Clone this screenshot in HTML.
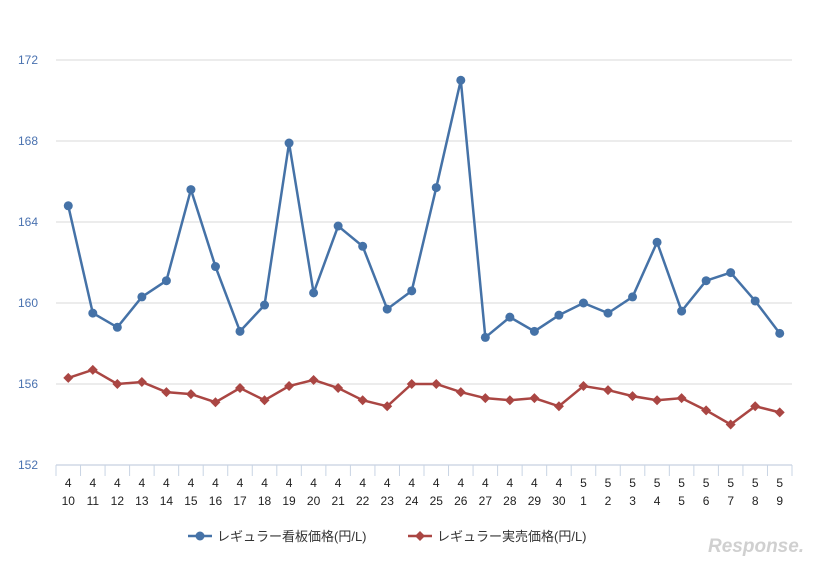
<!DOCTYPE html>
<html><head><meta charset="utf-8">
<style>
body{margin:0;background:#fff;width:832px;height:564px;overflow:hidden;font-family:"Liberation Sans","Noto Sans CJK JP",sans-serif;}
svg text{font-family:"Liberation Sans","Noto Sans CJK JP",sans-serif;}
</style></head><body>
<svg id="chart" width="832" height="564" xmlns="http://www.w3.org/2000/svg"></svg>
<script>
const months=[4,4,4,4,4,4,4,4,4,4,4,4,4,4,4,4,4,4,4,4,4,5,5,5,5,5,5,5,5,5];
const days=[10,11,12,13,14,15,16,17,18,19,20,21,22,23,24,25,26,27,28,29,30,1,2,3,4,5,6,7,8,9];
const signPrice=[164.8,159.5,158.8,160.3,161.1,165.6,161.8,158.6,159.9,167.9,160.5,163.8,162.8,159.7,160.6,165.7,171.0,158.3,159.3,158.6,159.4,160.0,159.5,160.3,163.0,159.6,161.1,161.5,160.1,158.5];
const actualPrice=[156.3,156.7,156.0,156.1,155.6,155.5,155.1,155.8,155.2,155.9,156.2,155.8,155.2,154.9,156.0,156.0,155.6,155.3,155.2,155.3,154.9,155.9,155.7,155.4,155.2,155.3,154.7,154.0,154.9,154.6];
const yTicks=[152,156,160,164,168,172];

const svg=document.getElementById('chart');
const NS='http://www.w3.org/2000/svg';
const L=56,R=792,T=60,B=465,yMin=152,yMax=172;
const n=days.length, step=(R-L)/n;
const xs=i=>L+step*(i+0.5);
const ys=v=>B-(v-yMin)/(yMax-yMin)*(B-T);
function mk(tag,attrs,parent){const e=document.createElementNS(NS,tag);for(const k in attrs)e.setAttribute(k,attrs[k]);(parent||svg).appendChild(e);return e;}

yTicks.forEach(t=>{
  if(t!==yMin){const g=mk('line',{x1:L,x2:R,y1:ys(t),y2:ys(t),stroke:'#d9d9d9','stroke-width':1});
  
  }
  const tx=mk('text',{x:18,y:ys(t)+4,'font-size':12,fill:'#4a72b0'});tx.textContent=t;
  
  
});
const ax=mk('line',{x1:L,x2:R,y1:B,y2:B,stroke:'#b8c6d8','stroke-width':1});


for(let i=0;i<=n;i++){const tk=mk('line',{x1:L+step*i,x2:L+step*i,y1:B,y2:B+11,stroke:'#c8d4e4'});
  
  }
days.forEach((d,i)=>{
  const t1=mk('text',{x:xs(i),y:487,'font-size':12,'text-anchor':'middle',fill:'#222'});t1.textContent=months[i];
  
  
  const t2=mk('text',{x:xs(i),y:505,'font-size':12,'text-anchor':'middle',fill:'#222'});t2.textContent=d;
  
  
});
function series(vals,color,shape,name){
  const p=mk('polyline',{points:vals.map((v,i)=>xs(i)+','+ys(v)).join(' '),fill:'none',stroke:color,'stroke-width':2.5});
  
  
  vals.forEach((v,i)=>{
    let m;
    if(shape==='circle') m=mk('circle',{cx:xs(i),cy:ys(v),r:4.5,fill:color});
    else {const x=xs(i),y=ys(v);m=mk('polygon',{points:`${x},${y-5} ${x+5},${y} ${x},${y+5} ${x-5},${y}`,fill:color});}
    
    
  });
}
series(signPrice,'#4572a7','circle','sign-price');
series(actualPrice,'#aa4643','diamond','actual-price');

const lg=mk('g',{});


const l1=mk('line',{x1:188,x2:212,y1:536,y2:536,stroke:'#4572a7','stroke-width':2.5},lg);


const c1=mk('circle',{cx:200,cy:536,r:4.5,fill:'#4572a7'},lg);


const tx1=mk('text',{x:217,y:541,'font-size':13,fill:'#333'},lg);tx1.textContent='レギュラー看板価格(円/L)';


const l2=mk('line',{x1:408,x2:432,y1:536,y2:536,stroke:'#aa4643','stroke-width':2.5},lg);


const d2=mk('polygon',{points:'420,531 425,536 420,541 415,536',fill:'#aa4643'},lg);


const tx2=mk('text',{x:437,y:541,'font-size':13,fill:'#333'},lg);tx2.textContent='レギュラー実売価格(円/L)';



const logo=mk('text',{x:708,y:552,'font-size':19,'font-style':'italic','font-weight':'bold',fill:'#d0d0d0'});logo.textContent='Response.';


</script>
</body></html>
